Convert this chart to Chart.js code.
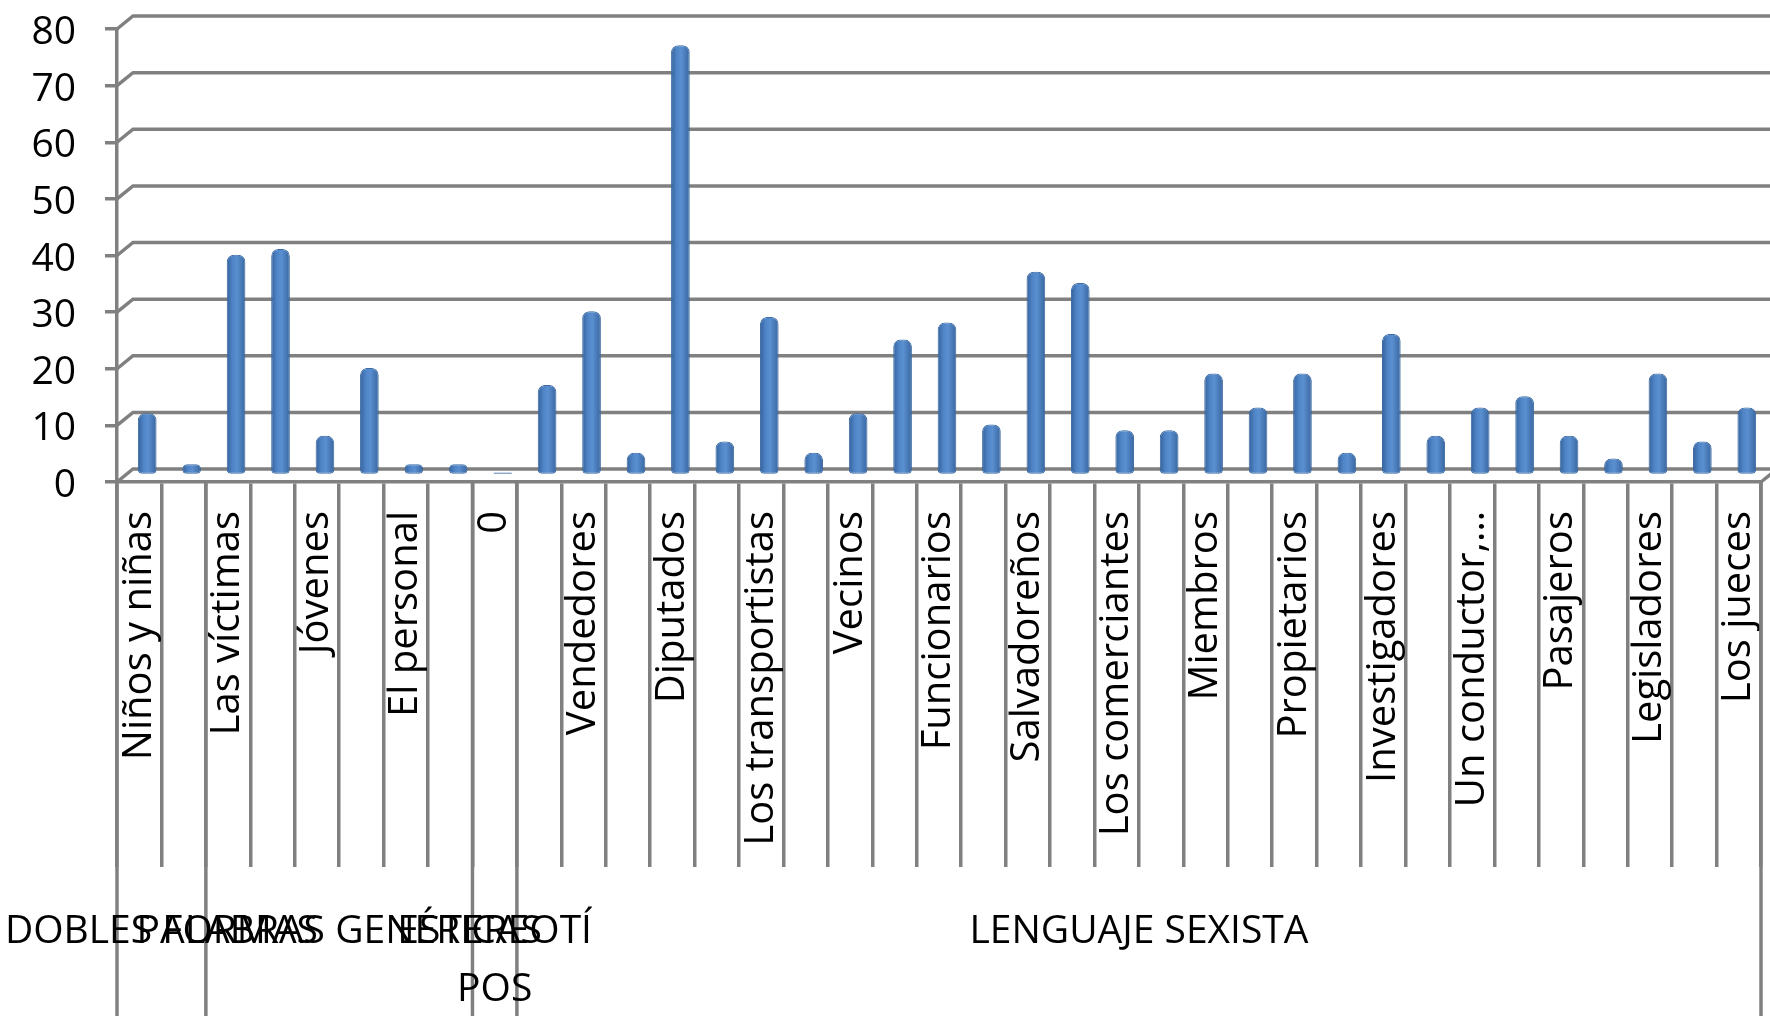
<!DOCTYPE html>
<html>
<head>
<meta charset="utf-8">
<script src="https://cdn.jsdelivr.net/npm/chart.js@4/dist/chart.umd.min.js"></script>
<style>
  html, body { margin: 0; padding: 0; background: #fff; }
  #wrap { width: 1770px; height: 1016px; position: relative; }
</style>
</head>
<body>
<div id="wrap"><canvas id="chart"></canvas></div>
<script>
const categories = [
    "Niños y niñas", "", "Las víctimas", "", "Jóvenes", "", "El personal", "",
    "0", "", "Vendedores", "", "Diputados", "", "Los transportistas", "",
    "Vecinos", "", "Funcionarios", "", "Salvadoreños", "", "Los comerciantes", "",
    "Miembros", "", "Propietarios", "", "Investigadores", "", "Un conductor,…", "",
    "Pasajeros", "", "Legisladores", "", "Los jueces",
];

const values = [
    11, 2, 39, 40, 7, 19, 2, 2, 0,
    16, 29, 4, 76, 6, 28, 4, 11, 24, 27,
    9, 36, 34, 8, 8, 18, 12, 18, 4, 25,
    7, 12, 14, 7, 3, 18, 6, 12,
];

// outer level of the category axis
const groupLines = [["DOBLES FORMAS"], ["PALABRAS GENÉRICAS"], ["ESTEREOTÍ", "POS"], ["LENGUAJE SEXISTA"]];
const groupSizes = [2, 6, 1, 28];

const yTicks = [0, 10, 20, 30, 40, 50, 60, 70, 80];

const GRID = "#808080";
const FONT = "'Open Sans', sans-serif";
const DEPTH_X = 16, DEPTH_Y = 13;

// back wall, floor and the outer label level
const wallPlugin = {
    id: "wall",
    beforeDatasetsDraw(chart) {
        const { ctx, chartArea } = chart;
        const y = chart.scales.y;
        ctx.save();
        ctx.strokeStyle = GRID;
        ctx.lineWidth = 3.5;
        yTicks.forEach(v => {
            const py = y.getPixelForValue(v);
            ctx.beginPath();
            ctx.moveTo(chartArea.left, py);
            ctx.lineTo(chartArea.left + DEPTH_X, py - DEPTH_Y);
            ctx.lineTo(chart.width + 5, py - DEPTH_Y);
            ctx.stroke();
        });
        ctx.beginPath();
        ctx.moveTo(chartArea.right, chartArea.bottom);
        ctx.lineTo(chartArea.right + DEPTH_X, chartArea.bottom - DEPTH_Y);
        ctx.stroke();
        ctx.restore();
        // bars sit halfway into the depth
        ctx.save();
        ctx.translate(DEPTH_X / 2, -DEPTH_Y / 2);
    },
    afterDatasetsDraw(chart) {
        chart.ctx.restore();
    },
    afterDraw(chart) {
        const { ctx, chartArea } = chart;
        const x = chart.scales.x;
        const step = x.width / categories.length;
        ctx.save();
        ctx.strokeStyle = GRID;
        ctx.lineWidth = 3.5;
        let start = 0;
        const edges = [0];
        groupSizes.forEach(n => { start += n; edges.push(start); });
        edges.forEach(i => {
            const px = x.left + i * step;
            ctx.beginPath();
            ctx.moveTo(px, chartArea.bottom);
            ctx.lineTo(px, chart.height);
            ctx.stroke();
        });
        ctx.fillStyle = "#000";
        ctx.font = "39px " + FONT;
        ctx.textAlign = "center";
        ctx.textBaseline = "middle";
        groupLines.forEach((lines, g) => {
            const cx = x.left + (edges[g] + edges[g + 1]) / 2 * step;
            lines.forEach((t, k) => ctx.fillText(t, cx, 932 + k * 58));
        });
        ctx.restore();
    },
};

function barFill(context) {
    const chart = context.chart;
    const x = chart.scales.x;
    if (!x || !chart.chartArea) return "#4f81bd";
    const cx = x.getPixelForValue(context.dataIndex);
    const g = chart.ctx.createLinearGradient(cx - 9, 0, cx + 9, 0);
    g.addColorStop(0, "#36649e");
    g.addColorStop(0.3, "#4f84c6");
    g.addColorStop(0.55, "#5a8fd0");
    g.addColorStop(1, "#3a68a2");
    return g;
}

new Chart(document.getElementById("chart"), {
    type: "bar",
    plugins: [wallPlugin],
    data: {
        labels: categories,
        datasets: [{
            data: values,
            backgroundColor: barFill,
            borderColor: "#3c6aa3",
            borderWidth: 1,
            borderRadius: { topLeft: 7, topRight: 7, bottomLeft: 4, bottomRight: 4 },
            borderSkipped: false,
            barPercentage: 0.42,
            categoryPercentage: 1,
            minBarLength: 3,
            clip: false,
        }],
    },
    options: {
        responsive: true,
        maintainAspectRatio: false,
        animation: false,
        layout: { padding: { top: 29, right: 9, left: 0, bottom: 0 } },
        plugins: {
            legend: { display: false },
            tooltip: { enabled: false },
        },
        scales: {
            x: {
                afterFit: (scale) => { scale.height = 534; },
                grid: {
                    offset: true,
                    drawOnChartArea: false,
                    drawTicks: true,
                    tickLength: 385,
                    color: GRID,
                    lineWidth: 3.5,
                },
                border: { display: true, color: GRID, width: 3.5 },
                ticks: {
                    autoSkip: false,
                    minRotation: 90,
                    maxRotation: 90,
                    padding: -356,
                    color: "#000",
                    font: { family: FONT, size: 40 },
                },
            },
            y: {
                min: 0,
                max: 80,
                afterFit: (scale) => {
                    scale.width = 117;
                    scale.paddingTop = 0;
                    scale.paddingBottom = 0;
                },
                afterBuildTicks: (scale) => { scale.ticks = yTicks.map(v => ({ value: v })); },
                grid: {
                    drawOnChartArea: false,
                    drawTicks: true,
                    tickLength: 12,
                    color: GRID,
                    lineWidth: 3.5,
                },
                border: { display: true, color: GRID, width: 3.5 },
                ticks: {
                    padding: 29,
                    labelOffset: 4,
                    color: "#000",
                    font: { family: FONT, size: 39 },
                },
            },
        },
    },
});
</script>
</body>
</html>
